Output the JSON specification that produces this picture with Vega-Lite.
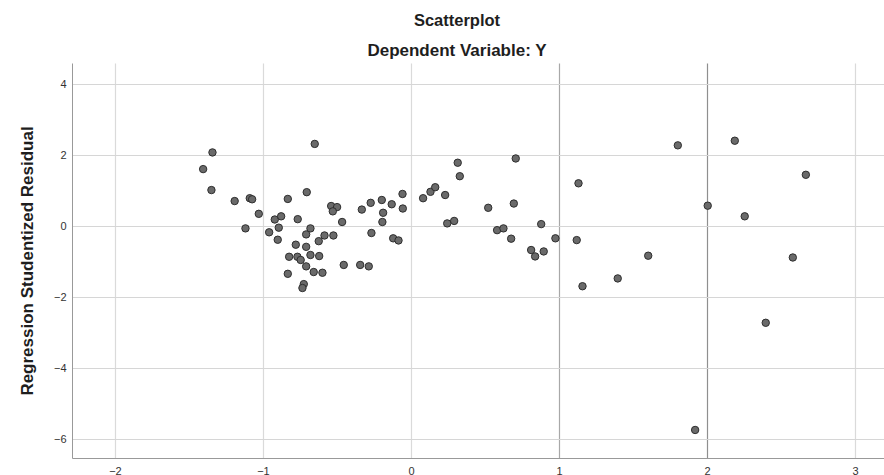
{
  "$schema": "https://vega.github.io/schema/vega-lite/v6.json",
  "autosize": {"type": "none"},
  "padding": {"left": 72, "top": 63, "right": 0, "bottom": 17},
  "width": 812,
  "height": 395,
  "background": "white",
  "title": {
    "text": "Scatterplot",
    "subtitle": "Dependent Variable: Y",
    "anchor": "middle",
    "dx": -21,
    "font": "Liberation Sans",
    "fontSize": 16.5,
    "fontWeight": "bold",
    "color": "#1e1e1e",
    "subtitleFont": "Liberation Sans",
    "subtitleFontSize": 17,
    "subtitleFontWeight": "bold",
    "subtitleColor": "#1e1e1e",
    "subtitlePadding": 14,
    "offset": 4
  },
  "config": {
    "view": {"stroke": null},
    "axis": {"domainColor": "#999", "labelFont": "Liberation Sans", "titleFont": "Liberation Sans"}
  },
  "data": {
    "values": [
      {"x": -1.341, "y": 2.08}, {"x": -1.404, "y": 1.61}, {"x": -1.348, "y": 1.02}, {"x": -0.650, "y": 2.32},
      {"x": -1.191, "y": 0.71}, {"x": -1.089, "y": 0.79}, {"x": -1.073, "y": 0.76}, {"x": -1.028, "y": 0.35},
      {"x": -1.118, "y": -0.06}, {"x": -0.832, "y": 0.77}, {"x": -0.704, "y": 0.96}, {"x": -0.920, "y": 0.19},
      {"x": -0.877, "y": 0.28}, {"x": -0.893, "y": -0.04}, {"x": -0.958, "y": -0.17}, {"x": -0.900, "y": -0.38},
      {"x": -0.765, "y": 0.20}, {"x": -0.679, "y": -0.06}, {"x": -0.708, "y": -0.23}, {"x": -0.623, "y": -0.42},
      {"x": -0.584, "y": -0.26}, {"x": -0.524, "y": -0.26}, {"x": -0.778, "y": -0.52}, {"x": -0.708, "y": -0.58},
      {"x": -0.823, "y": -0.86}, {"x": -0.767, "y": -0.86}, {"x": -0.745, "y": -0.95}, {"x": -0.679, "y": -0.81},
      {"x": -0.620, "y": -0.84}, {"x": -0.708, "y": -1.13}, {"x": -0.657, "y": -1.29}, {"x": -0.598, "y": -1.31},
      {"x": -0.832, "y": -1.34}, {"x": -0.724, "y": -1.63}, {"x": -0.733, "y": -1.74}, {"x": -0.539, "y": 0.57},
      {"x": -0.499, "y": 0.54}, {"x": -0.528, "y": 0.42}, {"x": -0.465, "y": 0.12}, {"x": -0.454, "y": -1.09},
      {"x": -0.343, "y": -1.09}, {"x": -0.285, "y": -1.13}, {"x": -0.332, "y": 0.47}, {"x": -0.272, "y": 0.66},
      {"x": -0.197, "y": 0.74}, {"x": -0.188, "y": 0.38}, {"x": -0.193, "y": 0.12}, {"x": -0.130, "y": 0.62},
      {"x": -0.057, "y": 0.91}, {"x": -0.055, "y": 0.50}, {"x": -0.267, "y": -0.19}, {"x": -0.120, "y": -0.34},
      {"x": -0.084, "y": -0.40}, {"x": 0.082, "y": 0.79}, {"x": 0.132, "y": 0.97}, {"x": 0.164, "y": 1.10},
      {"x": 0.231, "y": 0.88}, {"x": 0.316, "y": 1.79}, {"x": 0.330, "y": 1.41}, {"x": 0.245, "y": 0.08},
      {"x": 0.292, "y": 0.15}, {"x": 0.522, "y": 0.52}, {"x": 0.708, "y": 1.91}, {"x": 0.695, "y": 0.64},
      {"x": 0.582, "y": -0.11}, {"x": 0.625, "y": -0.06}, {"x": 0.677, "y": -0.35}, {"x": 0.880, "y": 0.06},
      {"x": 0.812, "y": -0.67}, {"x": 0.839, "y": -0.85}, {"x": 0.897, "y": -0.71}, {"x": 0.976, "y": -0.34},
      {"x": 1.132, "y": 1.21}, {"x": 1.120, "y": -0.39}, {"x": 1.159, "y": -1.69}, {"x": 1.397, "y": -1.47},
      {"x": 1.603, "y": -0.83}, {"x": 1.803, "y": 2.28}, {"x": 2.188, "y": 2.41}, {"x": 2.005, "y": 0.58},
      {"x": 2.255, "y": 0.28}, {"x": 2.668, "y": 1.45}, {"x": 2.580, "y": -0.88}, {"x": 2.397, "y": -2.72},
      {"x": 1.920, "y": -5.74}
    ]
  },
  "mark": {"type": "point", "filled": true, "fill": "#6a6a6a", "stroke": "#2e2e2e", "strokeWidth": 1, "opacity": 1, "size": 55},
  "encoding": {
    "x": {
      "field": "x", "type": "quantitative",
      "scale": {"domain": [-2.29, 3.196], "nice": false, "zero": false},
      "axis": {
        "title": null, "values": [-2, -1, 0, 1, 2, 3], "ticks": false,
        "labelFontSize": 11, "labelColor": "#333", "labelPadding": 7,
        "gridColor": {"condition": [{"test": "datum.value == 2", "value": "#8f8f8f"}, {"test": "datum.value == 1", "value": "#a8a8a8"}], "value": "#dadada"},
        "gridWidth": 1.2
      }
    },
    "y": {
      "field": "y", "type": "quantitative",
      "scale": {"domain": [-6.53, 4.6], "nice": false, "zero": false},
      "axis": {
        "title": "Regression Studentized Residual", "values": [-6, -4, -2, 0, 2, 4], "ticks": false,
        "labelFontSize": 11, "labelColor": "#333", "labelPadding": 6,
        "titleFontSize": 17, "titleFontWeight": "bold", "titleColor": "#1e1e1e", "titlePadding": 17,
        "gridColor": "#d6d6d6", "gridWidth": 1.2
      }
    }
  }
}
